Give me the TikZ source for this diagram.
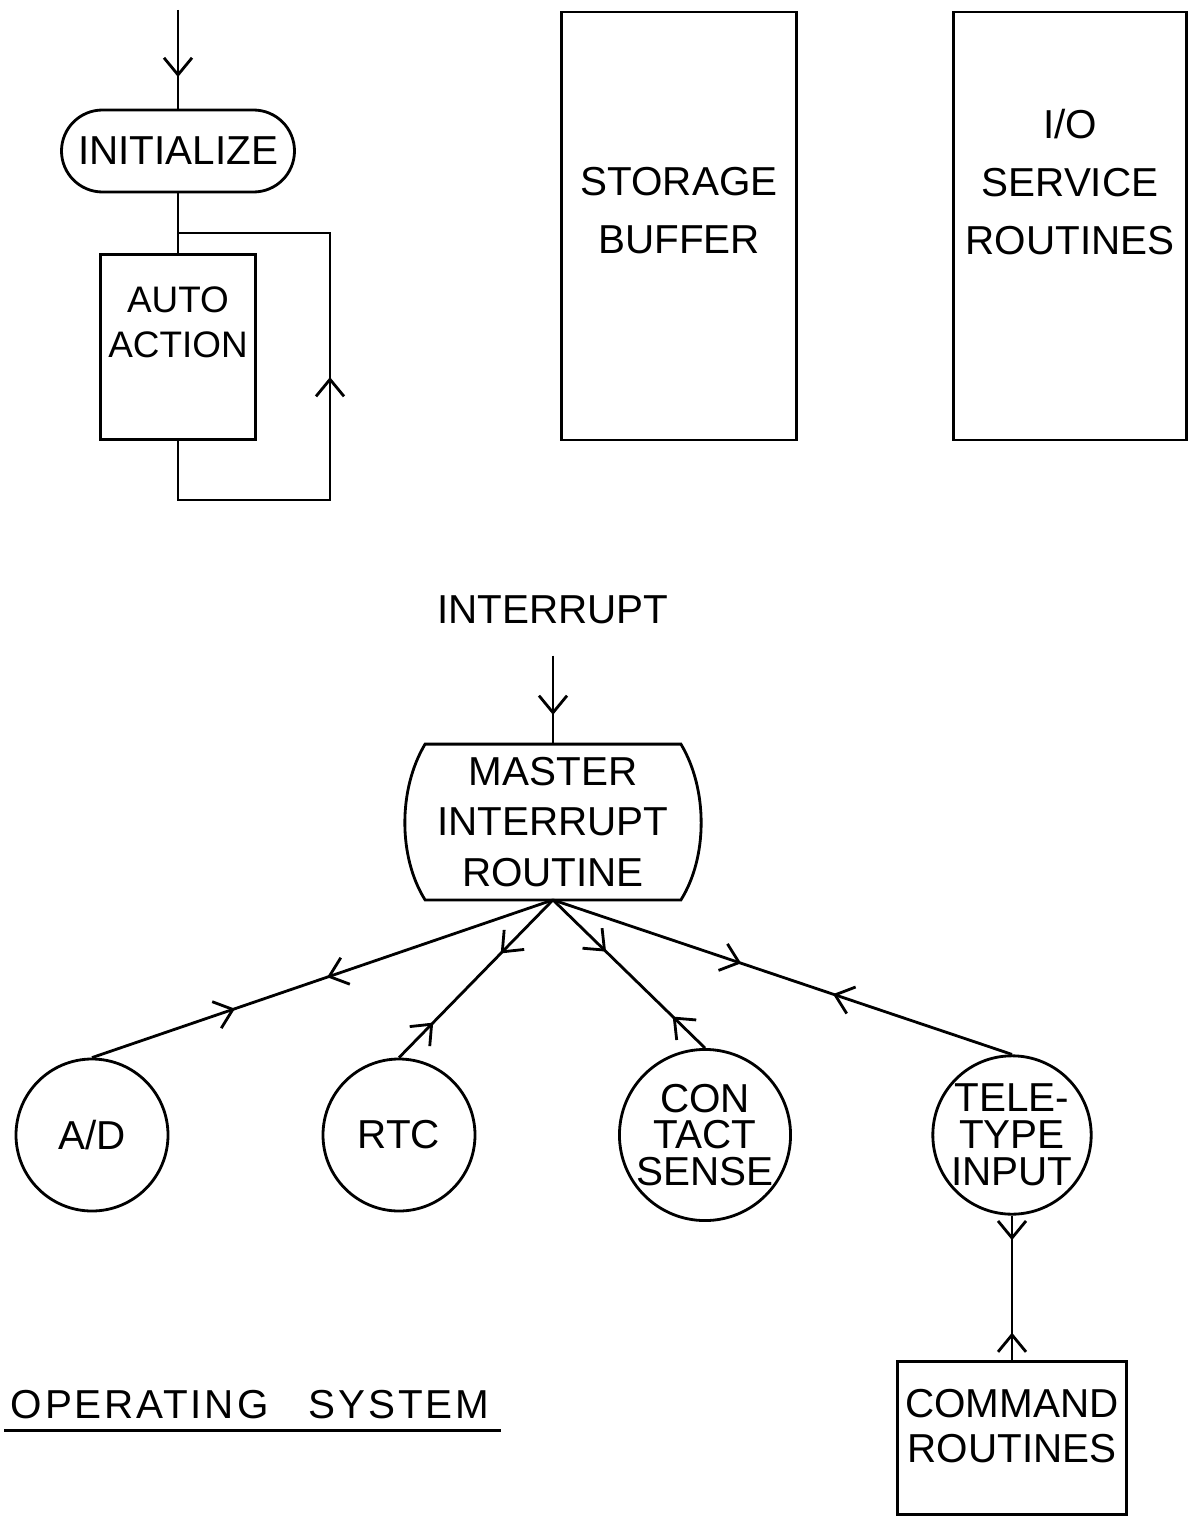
\documentclass[tikz,border=0pt]{standalone}
\usepackage{fontspec}
\setmainfont{Liberation Sans}
\usepackage{tikz}
\usetikzlibrary{arrows.meta,positioning,decorations.markings}
\tikzset{barb/.tip={Straight Barb[length=3.4mm,width=5.6mm,line width=1.6pt]}}

\begin{document}
\begin{tikzpicture}[
  x=0.2mm, y=-0.2mm, line width=1.6pt,
  font=\fontsize{23}{28}\selectfont,
  box/.style={draw, inner sep=0pt, align=center},
  circ/.style={draw, circle, minimum size=30.4mm, inner sep=0pt, align=center,
               font=\fontsize{23}{21}\selectfont},
  lbl/.style={inner sep=0pt, align=center},
  midarrow/.style={postaction={decorate}, decoration={markings,
               mark=at position #1 with {\arrow{barb}}}},
  twoway/.style 2 args={postaction={decorate}, decoration={markings,
               mark=at position #1 with {\arrow{barb}},
               mark=at position #2 with {\arrowreversed{barb}}}}
]
\useasboundingbox (0,0) rectangle (1194,1519);

% --- start-up loop (left) ---
\coordinate (entry) at (178,10);
\node[box, rounded corners=8.2mm, minimum width=46.6mm, minimum height=16.4mm]
  (init) at (178,151) {INITIALIZE};
\node[box, minimum width=31mm, minimum height=37mm] (auto) at (178,347) {};
\node[lbl, font=\fontsize{21}{26}\selectfont, below=6.4mm of auto.north]
  (autotxt) {AUTO\\ACTION};
\coordinate (tee) at (178,233);
\coordinate (loopbl) at (178,500);
\coordinate (loopbr) at (330,500);
\coordinate (looptr) at (330,233);

\draw[midarrow=0.68] (entry) -- (init);
\draw (init) -- (auto);
\draw[midarrow=0.53] (auto) -- (loopbl) -- (loopbr) -- (looptr) -- (tee);

% --- storage and service blocks (top right) ---
\node[box, minimum width=47mm, minimum height=85.6mm] (store) at (679,226) {};
\node[lbl, font=\fontsize{23}{33}\selectfont, below=31mm of store.north]
  (storetxt) {STORAGE\\BUFFER};
\node[box, minimum width=46.6mm, minimum height=85.6mm] (io) at (1070,226) {};
\node[lbl, font=\fontsize{23}{33}\selectfont, below=19.4mm of io.north]
  (iotxt) {I/O\\SERVICE\\ROUTINES};

% --- interrupt dispatch ---
\node[lbl] (intlbl) at (553,610) {INTERRUPT};
\coordinate[below=6mm of intlbl] (intin);
\node[lbl, minimum width=50.6mm, minimum height=30.6mm,
      font=\fontsize{23}{28.5}\selectfont] (master) at (553,822)
  {MASTER\\INTERRUPT\\ROUTINE};
\draw (master.north west) -- (master.north east)
  .. controls ([xshift=5.4mm,yshift=-9mm]master.north east)
  and ([xshift=5.4mm,yshift=8.6mm]master.south east) .. (master.south east)
  -- (master.south west)
  .. controls ([xshift=-5.4mm,yshift=8.6mm]master.south west)
  and ([xshift=-5.4mm,yshift=-9mm]master.north west) .. (master.north west)
  -- cycle;
\draw[midarrow=0.67] (intin) -- (master);

\node[circ] (ad) at (92,1135) {A/D};
\node[circ] (rtc) at (399,1135) {RTC};
\node[circ] (cs) at (705,1135) {CON\\TACT\\SENSE};
\node[circ] (tty) at (1012,1135) {TELE-\\TYPE\\INPUT};

\draw[twoway={0.49}{0.69}] (master.south) -- (ad.north);
\draw[twoway={0.34}{0.78}] (master.south) -- (rtc.north);
\draw[twoway={0.35}{0.79}] (master.south) -- (cs.north);
\draw[twoway={0.41}{0.61}] (master.south) -- (tty.north);

% --- command handling (bottom right) ---
\node[box, minimum width=45.8mm, minimum height=30.6mm] (cmd) at (1012,1438) {};
\node[lbl, font=\fontsize{23}{25.6}\selectfont, below=5.6mm of cmd.north]
  (cmdtxt) {COMMAND\\ROUTINES};
\draw[twoway={0.17}{0.81}] (tty) -- (cmd);

% --- caption ---
\node[lbl, font=\fontsize{23}{28}\selectfont\addfontfeature{LetterSpace=7}]
  (os) at (250,1405) {OPERATING\quad SYSTEM};
\draw ([xshift=-1mm,yshift=-2mm]os.south west) -- ([xshift=2mm,yshift=-2mm]os.south east);

\end{tikzpicture}
\end{document}
